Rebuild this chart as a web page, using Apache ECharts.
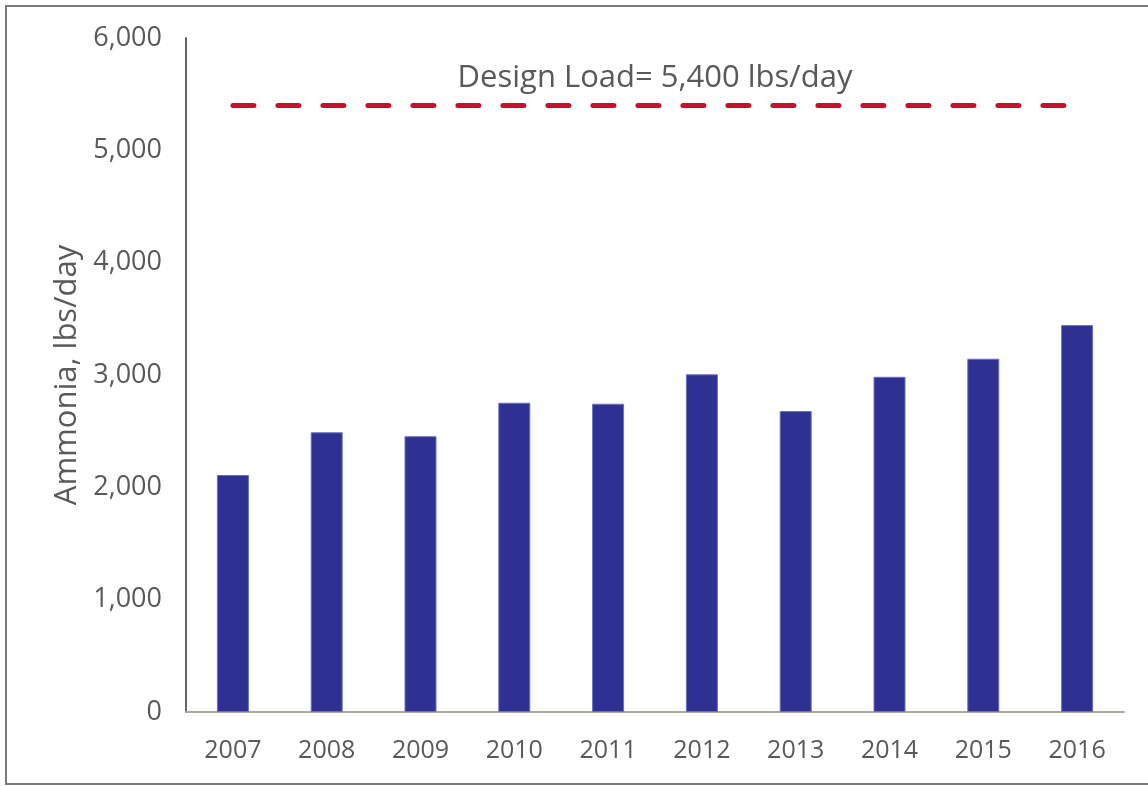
<!DOCTYPE html>
<html>
<head>
<meta charset="utf-8">
<script src="https://cdn.jsdelivr.net/npm/echarts@6/dist/echarts.min.js"></script>
<style>html,body{margin:0;padding:0;background:#fff}#c{width:1148px;height:786px}</style>
</head>
<body>
<div id="c"></div>
<script>
const years = ['2007','2008','2009','2010','2011','2012','2013','2014','2015','2016'];
const ammonia = [2110, 2490, 2455, 2753, 2744, 3006, 2679, 2984, 3145, 3444];
const designLoad = 5400;
const designLabel = 'Design Load= 5,400 lbs/day';
const yTitle = 'Ammonia, lbs/day';

const chart = echarts.init(document.getElementById('c'), null, {renderer: 'canvas'});
const font = '"Open Sans", sans-serif';
chart.setOption({
  animation: false,
  backgroundColor: '#fff',
  graphic: [{
    type: 'rect', silent: true,
    shape: {x: 6, y: 6, width: 1160, height: 778},
    style: {fill: 'none', stroke: '#7a7a7a', lineWidth: 2}
  }],
  grid: {left: 186, right: 24, top: 38, bottom: 74, containLabel: false},
  xAxis: {
    type: 'category',
    data: years,
    axisLine: {lineStyle: {color: '#aaab9f', width: 2}},
    axisTick: {show: false},
    axisLabel: {color: '#595959', fontFamily: font, fontSize: 25, margin: 26}
  },
  yAxis: {
    type: 'value',
    min: 0, max: 6000, interval: 1000,
    name: yTitle,
    nameLocation: 'middle',
    nameGap: 102,
    nameTextStyle: {color: '#595959', fontFamily: font, fontSize: 31},
    axisLine: {show: true, lineStyle: {color: '#666', width: 2}},
    axisTick: {show: false},
    splitLine: {show: false},
    axisLabel: {
      color: '#595959', fontFamily: font, fontSize: 27, margin: 24,
      formatter: v => v.toLocaleString('en-US')
    }
  },
  series: [{
    type: 'bar',
    data: ammonia,
    barWidth: 32,
    itemStyle: {color: '#2e3192', borderColor: '#6d70bb', borderWidth: 1},
    markLine: {
      silent: true,
      symbol: ['none', 'none'],
      lineStyle: {color: '#c8102e', width: 5, type: [21, 24], cap: 'round'},
      label: {
        show: true, position: 'middle', formatter: designLabel,
        color: '#595959', fontFamily: font, fontSize: 31, distance: 12
      },
      data: [[{coord: [years[0], designLoad]}, {coord: [years[years.length - 1], designLoad]}]]
    }
  }]
});
</script>
</body>
</html>
